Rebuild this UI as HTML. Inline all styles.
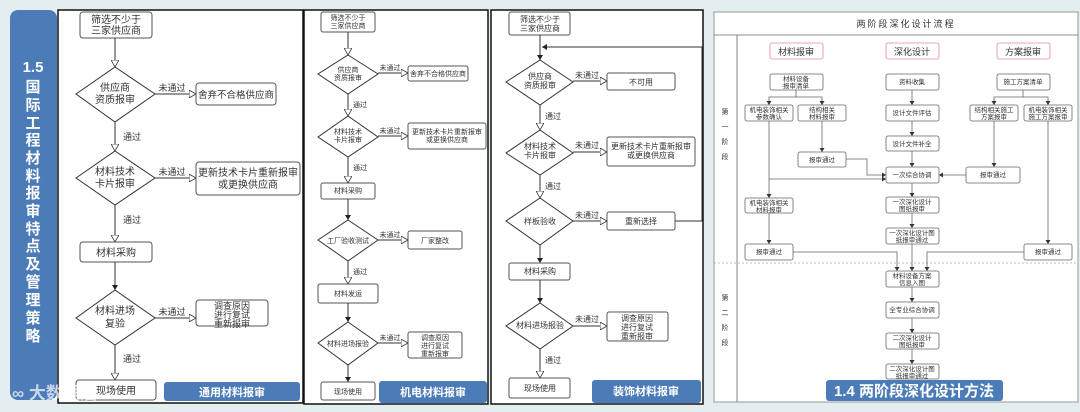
<!DOCTYPE html>
<html><head><meta charset="utf-8"><style>
html,body{margin:0;padding:0;background:#e4edef;}
svg{display:block;}
text{font-family:"Liberation Sans","Noto Sans CJK SC",sans-serif;fill:#333;}
.b{fill:#fff;stroke:#555;stroke-width:1;}
.d{fill:#fff;stroke:#333;stroke-width:1;}
.l{stroke:#333;stroke-width:1;fill:none;}
.g{stroke:#666;stroke-width:0.8;fill:none;}
.p{fill:#fff;stroke:#666;stroke-width:0.8;}
.w{fill:#fff;}
</style></head><body>
<svg width="1080" height="412" viewBox="0 0 1080 412" xmlns="http://www.w3.org/2000/svg">
<defs>
<marker id="h" markerWidth="8" markerHeight="8" refX="7" refY="4" orient="auto" markerUnits="userSpaceOnUse"><path d="M0,0 L7,4 L0,8 Z" fill="#fff" stroke="#333" stroke-width="0.8"/></marker>
<marker id="f" markerWidth="6" markerHeight="6" refX="5" refY="3" orient="auto" markerUnits="userSpaceOnUse"><path d="M0,0 L5,3 L0,6 Z" fill="#222"/></marker>
<marker id="s" markerWidth="5" markerHeight="5" refX="4" refY="2.5" orient="auto" markerUnits="userSpaceOnUse"><path d="M0,0 L4,2.5 L0,5 Z" fill="#333"/></marker>
</defs>
<rect width="1080" height="412" fill="#e4edef"/>

<!-- sidebar -->
<rect x="10" y="10" width="47" height="390" rx="8" fill="#4b7cb8"/>
<g font-size="15" font-weight="bold" text-anchor="middle">
<text x="33" y="72" class="w">1.5</text>
<text x="33" y="92" class="w">国</text><text x="33" y="110" class="w">际</text>
<text x="33" y="128" class="w">工</text><text x="33" y="145" class="w">程</text>
<text x="33" y="163" class="w">材</text><text x="33" y="181" class="w">料</text>
<text x="33" y="198" class="w">报</text><text x="33" y="216" class="w">审</text>
<text x="33" y="234" class="w">特</text><text x="33" y="251" class="w">点</text>
<text x="33" y="269" class="w">及</text><text x="33" y="287" class="w">管</text>
<text x="33" y="305" class="w">理</text><text x="33" y="323" class="w">策</text>
<text x="33" y="341" class="w">略</text>
</g>

<!-- Panel 1 -->
<rect x="58" y="10" width="245" height="393" fill="#fff" stroke="#111" stroke-width="1.5"/>
<g font-size="10" text-anchor="middle">
<rect class="b" x="80" y="12" width="72" height="26" rx="3"/>
<text x="116" y="23">筛选不少于</text><text x="116" y="34">三家供应商</text>
<line class="l" x1="115" y1="38" x2="115" y2="67" marker-end="url(#h)"/>
<path class="d" d="M115,67 L155,94 L115,122 L76,94 Z"/>
<text x="115" y="91">供应商</text><text x="115" y="103">资质报审</text>
<line class="l" x1="155" y1="94" x2="196" y2="94" marker-end="url(#h)"/>
<text x="172" y="91" font-size="9">未通过</text>
<rect class="b" x="196" y="83" width="80" height="22" rx="3"/>
<text x="236" y="98" font-size="9.5">舍弃不合格供应商</text>
<line class="l" x1="115" y1="122" x2="115" y2="151" marker-end="url(#h)"/>
<text x="132" y="140" font-size="9">通过</text>
<path class="d" d="M115,151 L155,178 L115,205 L76,178 Z"/>
<text x="115" y="175">材料技术</text><text x="115" y="187">卡片报审</text>
<line class="l" x1="155" y1="178" x2="196" y2="178" marker-end="url(#h)"/>
<text x="172" y="175" font-size="9">未通过</text>
<rect class="b" x="196" y="162" width="104" height="33" rx="3"/>
<text x="248" y="176">更新技术卡片重新报审</text><text x="248" y="188">或更换供应商</text>
<line class="l" x1="115" y1="205" x2="115" y2="242" marker-end="url(#h)"/>
<text x="132" y="223" font-size="9">通过</text>
<rect class="b" x="80" y="242" width="72" height="20" rx="3"/>
<text x="116" y="256">材料采购</text>
<line class="l" x1="115" y1="262" x2="115" y2="290" marker-end="url(#f)"/>
<path class="d" d="M115,290 L155,318 L115,345 L76,318 Z"/>
<text x="115" y="314">材料进场</text><text x="115" y="327">复验</text>
<line class="l" x1="155" y1="318" x2="196" y2="318" marker-end="url(#h)"/>
<text x="172" y="315" font-size="9">未通过</text>
<rect class="b" x="196" y="300" width="72" height="26" rx="3"/>
<text x="232" y="309" font-size="9">调查原因</text><text x="232" y="318" font-size="9">进行复试</text><text x="232" y="327" font-size="9">重新报审</text>
<line class="l" x1="115" y1="345" x2="115" y2="380" marker-end="url(#h)"/>
<text x="132" y="362" font-size="9">通过</text>
<rect class="b" x="76" y="380" width="80" height="20" rx="3"/>
<text x="116" y="394">现场使用</text>
</g>
<rect x="164" y="382" width="136" height="19" rx="3" fill="#4b7cb8"/>
<text x="232" y="396" font-size="11" font-weight="bold" text-anchor="middle" class="w">通用材料报审</text>
<text x="12" y="399" font-size="17" font-weight="bold" style="fill:#fff;opacity:0.7">∞ 大数据酒</text>

<!-- Panel 2 -->
<rect x="304" y="10" width="184" height="394" fill="#fff" stroke="#111" stroke-width="1.5"/>
<g font-size="7" text-anchor="middle">
<rect class="b" x="321" y="12" width="54" height="20" rx="2"/>
<text x="348" y="20">筛选不少于</text><text x="348" y="28">三家供应商</text>
<line class="l" x1="348" y1="32" x2="348" y2="55" marker-end="url(#h)"/>
<path class="d" d="M348,55 L378,74 L348,94 L318,74 Z"/>
<text x="348" y="72">供应商</text><text x="348" y="80">资质报审</text>
<line class="l" x1="378" y1="73" x2="408" y2="73" marker-end="url(#h)"/>
<text x="390" y="70">未通过</text>
<rect class="b" x="408" y="66" width="60" height="15" rx="2"/>
<text x="438" y="76">舍弃不合格供应商</text>
<line class="l" x1="348" y1="94" x2="348" y2="116" marker-end="url(#h)"/>
<text x="360" y="107">通过</text>
<path class="d" d="M348,116 L378,137 L348,157 L318,137 Z"/>
<text x="348" y="134">材料技术</text><text x="348" y="142">卡片报审</text>
<line class="l" x1="378" y1="136" x2="408" y2="136" marker-end="url(#h)"/>
<text x="390" y="133">未通过</text>
<rect class="b" x="408" y="123" width="78" height="26" rx="2"/>
<text x="447" y="134">更新技术卡片重新报审</text><text x="447" y="142">或更换供应商</text>
<line class="l" x1="348" y1="157" x2="348" y2="183" marker-end="url(#h)"/>
<text x="360" y="170">通过</text>
<rect class="b" x="321" y="183" width="54" height="16" rx="2"/>
<text x="348" y="193">材料采购</text>
<line class="l" x1="348" y1="199" x2="348" y2="220" marker-end="url(#f)"/>
<path class="d" d="M348,220 L378,240 L348,261 L318,240 Z"/>
<text x="348" y="243">工厂验收测试</text>
<line class="l" x1="378" y1="240" x2="408" y2="240" marker-end="url(#h)"/>
<text x="390" y="237">未通过</text>
<rect class="b" x="408" y="231" width="54" height="18" rx="2"/>
<text x="435" y="243">厂家整改</text>
<line class="l" x1="348" y1="261" x2="348" y2="284" marker-end="url(#h)"/>
<text x="360" y="274">通过</text>
<rect class="b" x="318" y="284" width="60" height="19" rx="2"/>
<text x="348" y="296">材料发运</text>
<line class="l" x1="348" y1="303" x2="348" y2="322" marker-end="url(#f)"/>
<path class="d" d="M348,322 L378,343 L348,365 L318,343 Z"/>
<text x="348" y="346">材料进场报验</text>
<line class="l" x1="378" y1="343" x2="408" y2="343" marker-end="url(#h)"/>
<text x="390" y="340">未通过</text>
<rect class="b" x="408" y="332" width="54" height="26" rx="2"/>
<text x="435" y="340">调查原因</text><text x="435" y="348">进行复试</text><text x="435" y="356">重新报审</text>
<line class="l" x1="348" y1="365" x2="348" y2="382" marker-end="url(#f)"/>
<rect class="b" x="321" y="382" width="54" height="18" rx="2"/>
<text x="348" y="394">现场使用</text>
</g>
<rect x="379" y="381" width="108" height="22" rx="3" fill="#4b7cb8"/>
<text x="433" y="396" font-size="11" font-weight="bold" text-anchor="middle" class="w">机电材料报审</text>

<!-- Panel 3 -->
<rect x="491" y="10" width="212" height="394" fill="#fff" stroke="#111" stroke-width="1.5"/>
<g font-size="8" text-anchor="middle">
<rect class="b" x="509" y="12" width="61" height="23" rx="2"/>
<text x="540" y="22">筛选不少于</text><text x="540" y="31">三家供应商</text>
<line class="l" x1="540" y1="35" x2="540" y2="60" marker-end="url(#f)"/>
<polyline class="l" points="675,221 702,221 702,47 542,47" marker-end="url(#f)"/>
<path class="d" d="M540,60 L573,82 L540,105 L506,82 Z"/>
<text x="540" y="79">供应商</text><text x="540" y="88">资质报审</text>
<line class="l" x1="573" y1="81" x2="607" y2="81" marker-end="url(#h)"/>
<text x="587" y="78">未通过</text>
<rect class="b" x="607" y="73" width="68" height="17" rx="2"/>
<text x="641" y="85">不可用</text>
<line class="l" x1="540" y1="105" x2="540" y2="130" marker-end="url(#h)"/>
<text x="553" y="119">通过</text>
<path class="d" d="M540,130 L573,153 L540,175 L506,153 Z"/>
<text x="540" y="149">材料技术</text><text x="540" y="158">卡片报审</text>
<line class="l" x1="573" y1="152" x2="607" y2="152" marker-end="url(#h)"/>
<text x="587" y="148">未通过</text>
<rect class="b" x="607" y="137" width="88" height="29" rx="2"/>
<text x="651" y="149">更新技术卡片重新报审</text><text x="651" y="158">或更换供应商</text>
<line class="l" x1="540" y1="175" x2="540" y2="198" marker-end="url(#h)"/>
<text x="553" y="189">通过</text>
<path class="d" d="M540,198 L573,221 L540,245 L506,221 Z"/>
<text x="540" y="224">样板验收</text>
<line class="l" x1="573" y1="221" x2="607" y2="221" marker-end="url(#h)"/>
<text x="587" y="218">未通过</text>
<rect class="b" x="607" y="212" width="68" height="18" rx="2"/>
<text x="641" y="224">重新选择</text>
<line class="l" x1="540" y1="245" x2="540" y2="263" marker-end="url(#f)"/>
<rect class="b" x="509" y="263" width="61" height="17" rx="2"/>
<text x="540" y="274">材料采购</text>
<line class="l" x1="540" y1="280" x2="540" y2="303" marker-end="url(#f)"/>
<path class="d" d="M540,303 L573,326 L540,349 L506,326 Z"/>
<text x="540" y="328">材料进场报验</text>
<line class="l" x1="573" y1="326" x2="607" y2="326" marker-end="url(#h)"/>
<text x="587" y="322">未通过</text>
<rect class="b" x="607" y="312" width="61" height="29" rx="2"/>
<text x="637" y="321">调查原因</text><text x="637" y="330">进行复试</text><text x="637" y="339">重新报审</text>
<line class="l" x1="540" y1="349" x2="540" y2="378" marker-end="url(#h)"/>
<text x="553" y="363">通过</text>
<rect class="b" x="509" y="378" width="61" height="20" rx="2"/>
<text x="540" y="391">现场使用</text>
</g>
<rect x="592" y="380" width="109" height="23" rx="3" fill="#4b7cb8"/>
<text x="646" y="395" font-size="11" font-weight="bold" text-anchor="middle" class="w">装饰材料报审</text>

<!-- Panel 4 -->
<rect x="714" y="12" width="364" height="390" fill="#fff" stroke="#999" stroke-width="1"/>
<line class="g" x1="714" y1="35" x2="1078" y2="35"/>
<line class="g" x1="737" y1="35" x2="737" y2="402"/>
<line x1="714" y1="263" x2="1078" y2="263" stroke="#aaa" stroke-width="0.7" stroke-dasharray="2,2"/>
<text x="906" y="27" font-size="9" text-anchor="middle" letter-spacing="2">两阶段深化设计流程</text>
<g font-size="7" text-anchor="middle" fill="#555">
<text x="725" y="114">第</text><text x="725" y="129">一</text><text x="725" y="144">阶</text><text x="725" y="159">段</text>
<text x="725" y="300">第</text><text x="725" y="315">二</text><text x="725" y="330">阶</text><text x="725" y="345">段</text>
</g>
<g font-size="9" text-anchor="middle">
<rect x="770" y="43" width="53" height="16" rx="2" fill="#fff" stroke="#e58a95" stroke-width="0.8"/><text x="796" y="55">材料报审</text>
<rect x="886" y="43" width="53" height="16" rx="2" fill="#fff" stroke="#e58a95" stroke-width="0.8"/><text x="912" y="55">深化设计</text>
<rect x="997" y="43" width="53" height="16" rx="2" fill="#fff" stroke="#e58a95" stroke-width="0.8"/><text x="1023" y="55">方案报审</text>
</g>
<g>
<polyline class="g" points="796,90 796,97 769,97 769,105" marker-end="url(#s)"/>
<polyline class="g" points="796,97 822,97 822,105" marker-end="url(#s)"/>
<line class="g" x1="822" y1="121" x2="822" y2="152" marker-end="url(#s)"/>
<polyline class="g" points="846,159 867,159 867,175 886,175" marker-end="url(#s)"/>
<line class="g" x1="769" y1="121" x2="769" y2="198" marker-end="url(#s)"/>
<polyline class="g" points="769,179 886,179" marker-end="url(#s)"/>
<line class="g" x1="769" y1="213" x2="769" y2="244" marker-end="url(#s)"/>
<polyline class="g" points="793,252 897,252 897,271" marker-end="url(#s)"/>
<polyline class="g" points="1023,90 1023,97 994,97 994,105" marker-end="url(#s)"/>
<polyline class="g" points="1023,97 1048,97 1048,105" marker-end="url(#s)"/>
<line class="g" x1="994" y1="121" x2="994" y2="167" marker-end="url(#s)"/>
<line class="g" x1="966" y1="175" x2="939" y2="175" marker-end="url(#s)"/>
<line class="g" x1="1048" y1="121" x2="1048" y2="244" marker-end="url(#s)"/>
<polyline class="g" points="1024,252 927,252 927,271" marker-end="url(#s)"/>
<line class="g" x1="912" y1="90" x2="912" y2="105" marker-end="url(#s)"/>
<line class="g" x1="912" y1="121" x2="912" y2="136" marker-end="url(#s)"/>
<line class="g" x1="912" y1="151" x2="912" y2="167" marker-end="url(#s)"/>
<line class="g" x1="912" y1="183" x2="912" y2="197" marker-end="url(#s)"/>
<line class="g" x1="912" y1="213" x2="912" y2="228" marker-end="url(#s)"/>
<line class="g" x1="912" y1="244" x2="912" y2="271" marker-end="url(#s)"/>
<line class="g" x1="912" y1="287" x2="912" y2="302" marker-end="url(#s)"/>
<line class="g" x1="912" y1="318" x2="912" y2="333" marker-end="url(#s)"/>
<line class="g" x1="912" y1="349" x2="912" y2="364" marker-end="url(#s)"/>
</g>
<g font-size="6.5" text-anchor="middle">
<rect class="p" x="770" y="74" width="53" height="16" rx="2"/><text x="796" y="81">材料设备</text><text x="796" y="88">报审清单</text>
<rect class="p" x="745" y="105" width="48" height="16" rx="2"/><text x="769" y="112">机电装饰相关</text><text x="769" y="119">参数确认</text>
<rect class="p" x="798" y="105" width="48" height="16" rx="2"/><text x="822" y="112">结构相关</text><text x="822" y="119">材料报审</text>
<rect class="p" x="798" y="152" width="48" height="15" rx="2"/><text x="822" y="162">报审通过</text>
<rect class="p" x="745" y="198" width="48" height="15" rx="2"/><text x="769" y="205">机电装饰相关</text><text x="769" y="212">材料报审</text>
<rect class="p" x="745" y="244" width="48" height="16" rx="2"/><text x="769" y="254">报审通过</text>
<rect class="p" x="886" y="74" width="53" height="16" rx="2"/><text x="912" y="84">资料收集</text>
<rect class="p" x="886" y="105" width="53" height="16" rx="2"/><text x="912" y="115">设计文件评估</text>
<rect class="p" x="886" y="136" width="53" height="15" rx="2"/><text x="912" y="146">设计文件补全</text>
<rect class="p" x="886" y="167" width="53" height="16" rx="2"/><text x="912" y="177">一次综合协调</text>
<rect class="p" x="886" y="197" width="53" height="16" rx="2"/><text x="912" y="204">一次深化设计</text><text x="912" y="211">图纸报审</text>
<rect class="p" x="886" y="228" width="53" height="16" rx="2"/><text x="912" y="235">一次深化设计图</text><text x="912" y="242">纸报审通过</text>
<rect class="p" x="886" y="271" width="53" height="16" rx="2"/><text x="912" y="278">材料设备方案</text><text x="912" y="285">信息入图</text>
<rect class="p" x="886" y="302" width="53" height="16" rx="2"/><text x="912" y="312">全专业综合协调</text>
<rect class="p" x="886" y="333" width="53" height="16" rx="2"/><text x="912" y="340">二次深化设计</text><text x="912" y="347">图纸报审</text>
<rect class="p" x="886" y="364" width="53" height="15" rx="2"/><text x="912" y="371">二次深化设计图</text><text x="912" y="378">纸报审通过</text>
<rect class="p" x="997" y="74" width="53" height="16" rx="2"/><text x="1023" y="84">施工方案清单</text>
<rect class="p" x="970" y="105" width="48" height="16" rx="2"/><text x="994" y="112">结构相关施工</text><text x="994" y="119">方案报审</text>
<rect class="p" x="1024" y="105" width="48" height="16" rx="2"/><text x="1048" y="112">机电装饰相关</text><text x="1048" y="119">施工方案报审</text>
<rect class="p" x="966" y="167" width="54" height="16" rx="2"/><text x="993" y="177">报审通过</text>
<rect class="p" x="1024" y="244" width="48" height="16" rx="2"/><text x="1048" y="254">报审通过</text>
</g>
<rect x="826" y="380" width="177" height="21" rx="3" fill="#4b7cb8"/>
<text x="914" y="396" font-size="15" font-weight="bold" text-anchor="middle" class="w">1.4 两阶段深化设计方法</text>
</svg>
</body></html>
